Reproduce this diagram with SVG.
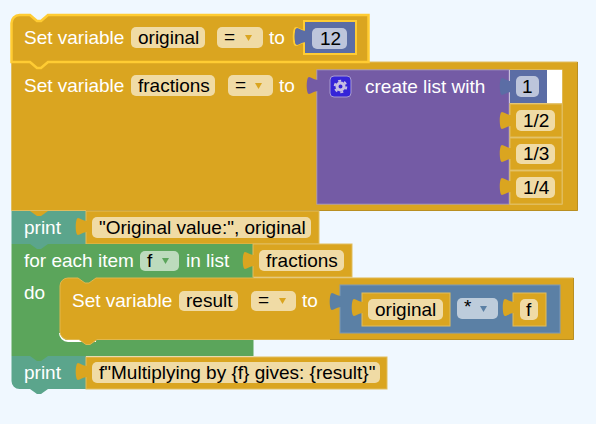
<svg xmlns="http://www.w3.org/2000/svg" width="596" height="424" viewBox="0 0 596 424">
<style>
text{font-family:"Liberation Sans",Arial,sans-serif;font-size:19px}
.w{fill:#fff}.k{fill:#000}
.g{fill:#daa520;stroke:#e1bd5e;stroke-width:1}
.f{fill:#f0dba5}
.p{fill:#745ba5;stroke:#9080b8;stroke-width:1}
.b{fill:#5b6da5}
.t{fill:#5ba58c}
.n{fill:#5ba55b}
.s{fill:#5b80a5}
.d{fill:none;stroke:#b98f22;stroke-width:1}
</style>
<defs>
<path id="tab" d="M1,3 C-3,3 -6,0 -8,0 C-11,0 -11,17 -8,17 C-6,17 -3,14 1,14 Z"/>
</defs>
<rect width="596" height="424" fill="#f0f8ff"/>
<g id="connectors"></g>
<g id="set-fractions">
<path class="g" d="M11.500,62 H577.500 V210.500 H11.500 Z"/>
<path class="d" d="M577.500,62 V210.500 H86"/>
<path d="M316.500,69.500 H562.500 V204.500 H316.500 Z" fill="#e8cf8c"/>
<rect x="509" y="70" width="53" height="33" fill="#fff"/>
<text class="w" x="24" y="92">Set variable</text>
<rect class="f" x="131" y="75" width="84" height="21" rx="5"/><text class="k" x="138" y="92">fractions</text>
<rect class="f" x="228" y="75" width="45" height="21" rx="5"/><text class="k" x="235" y="91">=</text><path d="M255,83 h7 l-3.500,6 z" fill="#daa520"/>
<text class="w" x="279" y="92">to</text>
</g>
<g id="list">
<rect class="p" x="317" y="70" width="192" height="134"/>
<use href="#tab" x="317" y="77" fill="#745ba5"/>
<rect x="330" y="76" width="21" height="21" rx="4" fill="#3525d8" stroke="#a89bd0"/>
<circle cx="340.500" cy="86.500" r="3.500" fill="none" stroke="#c7bfe2" stroke-width="3"/>
<circle cx="340.500" cy="86.500" r="5.800" fill="none" stroke="#c7bfe2" stroke-width="2" stroke-dasharray="3 3.070"/>
<text class="w" x="365" y="93">create list with</text>
</g>
<g id="n1"><rect class="b" x="510" y="70" width="37" height="33"/><use href="#tab" x="510" y="78" fill="#5b6da5"/><rect x="516" y="76" width="23" height="21" rx="5" fill="#bdc5db"/><text class="k" x="522" y="93">1</text></g>
<g id="n2"><rect class="g" x="510" y="104" width="52" height="33"/><use href="#tab" x="510" y="112" fill="#daa520"/><rect class="f" x="516" y="110" width="39" height="21" rx="5"/><text class="k" x="523" y="127">1/2</text></g>
<g id="n3"><rect class="g" x="510" y="138" width="52" height="32"/><use href="#tab" x="510" y="145" fill="#daa520"/><rect class="f" x="516" y="144" width="39" height="20" rx="5"/><text class="k" x="523" y="160">1/3</text></g>
<g id="n4"><rect class="g" x="510" y="171" width="52" height="33"/><use href="#tab" x="510" y="178" fill="#daa520"/><rect class="f" x="516" y="177" width="39" height="21" rx="5"/><text class="k" x="523" y="194">1/4</text></g>
<g id="set-original">
<path d="M11.500,62 V23 a8,8 0 0 1 8,-8 H30 l7,6 h4 l7,-6 H368.500 V62 H48 l-7,6 h-4 l-7,-6 Z" fill="#daa520" stroke="#ffcc33" stroke-width="2.500"/>
<text class="w" x="24" y="44">Set variable</text>
<rect class="f" x="131" y="27" width="74" height="21" rx="5"/><text class="k" x="138" y="44">original</text>
<rect class="f" x="217" y="27" width="46" height="21" rx="5"/><text class="k" x="224" y="43">=</text><path d="M245,35 h7 l-3.500,6 z" fill="#daa520"/>
<text class="w" x="269" y="44">to</text>
</g>
<g id="n12"><use href="#tab" x="304" y="28" fill="#5b6da5" stroke="#ffcc33" stroke-width="2"/><rect class="b" x="304" y="21" width="52" height="33" stroke="#ffcc33" stroke-width="2"/><use href="#tab" x="305" y="28" fill="#5b6da5"/><rect x="312" y="28" width="35" height="21" rx="5" fill="#bdc5db"/><text class="k" x="320" y="45">12</text></g>
<g id="print1">
<rect class="t" x="11.500" y="211" width="75" height="33"/>
<text class="w" x="24" y="234">print</text>
<rect class="g" x="86" y="211" width="233" height="33"/>
<use href="#tab" x="86" y="218" fill="#daa520"/>
<rect class="f" x="92" y="217" width="219" height="21" rx="5"/><text class="k" x="99" y="234">"Original value:", original</text>
<path d="M30,211 l7,5 h4 l7,-5 z" fill="#daa520"/>
</g>
<g id="foreach">
<path class="n" d="M11.500,244 H253.500 V356 H11.500 Z"/>
<path d="M30,244 l7,5 h4 l7,-5 z" fill="#5ba58c"/>
<text class="w" x="24" y="267">for each item</text>
<rect x="140" y="251" width="39" height="20" rx="5" fill="#bddbbd"/><text class="k" x="147" y="267">f</text><path d="M162,258 h7 l-3.500,6 z" fill="#5ba55b"/>
<text class="w" x="186" y="267">in list</text>
<text class="w" x="24" y="299">do</text>
<rect class="g" x="253" y="244" width="99" height="33"/><use href="#tab" x="253" y="252" fill="#daa520"/>
<rect class="f" x="259" y="250" width="85" height="21" rx="5"/><text class="k" x="266" y="267">fractions</text>
<path d="M60,333 a8,8 0 0 0 8,8 H96" fill="none" stroke="#fff" stroke-width="2"/>
</g>
<g id="set-result">
<path d="M60,286 a8,8 0 0 1 8,-8 H78 l7,5 h4 l7,-5 H573.500 V339.500 H97 l-7,5 h-4 l-7,-5 H68 a8,8 0 0 1 -8,-8 Z" fill="#daa520" stroke="#e1b74d"/>
<path class="d" d="M573.500,278 V339.500 H330"/>
<text class="w" x="72" y="307">Set variable</text>
<rect class="f" x="179" y="291" width="59" height="20" rx="5"/><text class="k" x="186" y="307">result</text>
<rect class="f" x="251" y="291" width="45" height="20" rx="5"/><text class="k" x="258" y="306">=</text><path d="M279,298 h7 l-3.500,6 z" fill="#daa520"/>
<text class="w" x="302" y="307">to</text>
</g>
<g id="binop">
<rect class="s" x="340" y="285" width="220" height="48" stroke="#7c99b7"/>
<use href="#tab" x="340" y="293" fill="#5b80a5"/>
<rect class="g" x="362" y="293" width="88" height="33"/><use href="#tab" x="362" y="299" fill="#daa520"/>
<rect class="f" x="368" y="299" width="75" height="21" rx="5"/><text class="k" x="375" y="316">original</text>
<rect x="457" y="298" width="41" height="21" rx="5" fill="#bdccdb"/><text class="k" x="464" y="313">*</text><path d="M480,306 h7 l-3.500,6 z" fill="#5b80a5"/>
<rect class="g" x="513" y="293" width="33" height="33"/><use href="#tab" x="513" y="299" fill="#daa520"/>
<rect class="f" x="520" y="299" width="18" height="21" rx="5"/><text class="k" x="526" y="316">f</text>
</g>
<g id="print2">
<path class="t" d="M11.500,356 H86 V389 H48 l-7,5 h-4 l-7,-5 H19.500 a8,8 0 0 1 -8,-8 Z"/>
<path d="M30,356 l7,5 h4 l7,-5 z" fill="#5ba55b"/>
<text class="w" x="24" y="379">print</text>
<rect class="g" x="86" y="357" width="301" height="32"/><use href="#tab" x="86" y="363" fill="#daa520"/>
<rect class="f" x="92" y="362" width="288" height="21" rx="5"/><text class="k" x="99" y="379">f"Multiplying by {f} gives: {result}"</text>
</g>
</svg>
